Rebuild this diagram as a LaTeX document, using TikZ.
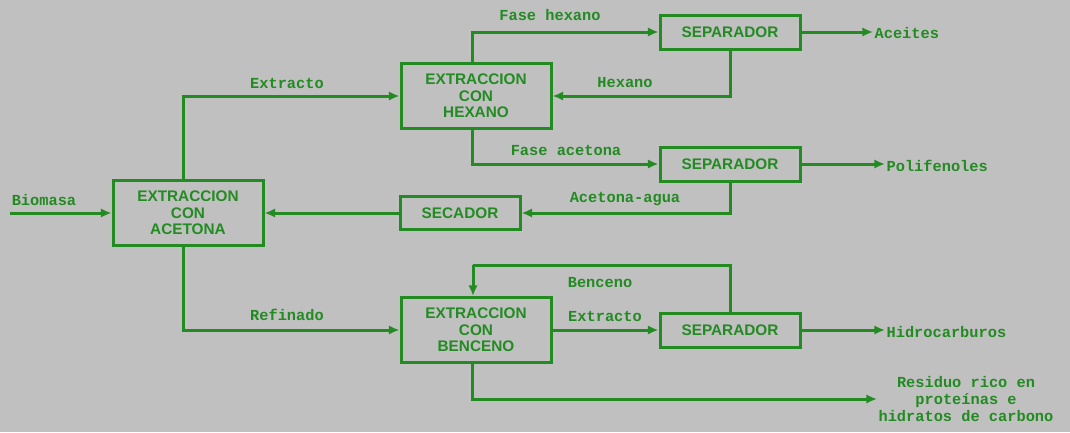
\documentclass[tikz,border=0pt]{standalone}
\usepackage{fontspec}
\setmainfont{Liberation Sans}
\newfontfamily\flowfont{Liberation Mono}
\usetikzlibrary{arrows.meta}
\definecolor{ink}{RGB}{34,139,34}
\definecolor{paper}{RGB}{192,192,192}
\tikzset{
  unitbox/.style={draw=ink, line width=2.25pt, text=ink, align=center,
    font=\fontsize{11.5}{12.5}\selectfont\bfseries, inner sep=1pt},
  bigbox/.style={unitbox, minimum width=112.5pt, minimum height=48.75pt},
  sepbox/.style={unitbox, minimum width=105pt, minimum height=25.5pt},
  drybox/.style={unitbox, minimum width=90pt, minimum height=24.75pt},
  lab/.style={text=ink, font=\flowfont\fontsize{11.5}{12.5}\selectfont\bfseries, inner sep=1pt},
  flow/.style={draw=ink, line width=2.25pt, -{Latex[length=8pt,width=7pt]}},
  wire/.style={draw=ink, line width=2.25pt}
}
\begin{document}
\begin{tikzpicture}[x=0.75pt, y=-0.75pt]
\fill[paper] (0,0) rectangle (1070,432);
\useasboundingbox (0,0) rectangle (1070,432);

% process units
\node[bigbox] (ace) at (188,213) {EXTRACCION\\CON\\ACETONA};
\node[bigbox] (hex) at (476,96) {EXTRACCION\\CON\\HEXANO};
\node[bigbox] (ben) at (476,330) {EXTRACCION\\CON\\BENCENO};
\node[sepbox] (s1) at (730,32) {SEPARADOR};
\node[sepbox] (s2) at (730,164) {SEPARADOR};
\node[sepbox] (s3) at (730,330) {SEPARADOR};
\node[drybox] (dry) at (460,213) {SECADOR};

% feed
\node[lab] (bio) at (44,200) {Biomasa};
\coordinate (feed) at (10,213);
\draw[flow] (feed) -- (ace.west);

% acetone extract to hexane extraction
\draw[flow] ([xshift=-3.75pt]ace.north) |- (hex.west);
\node[lab] at (287,83) {Extracto};

% hexane phase to separator, recycled hexane
\draw[flow] ([xshift=-3pt]hex.north) |- (s1.west);
\node[lab] at (550,15) {Fase hexano};
\draw[flow] (s1.south) |- (hex.east);
\node[lab] at (625,83) {Hexano};

% acetone phase to separator, acetone-water to dryer
\draw[flow] ([xshift=-3pt]hex.south) |- (s2.west);
\node[lab] at (566,150) {Fase acetona};
\draw[flow] (s2.south) |- (dry.east);
\node[lab] at (625,199) {Acetona-agua};
\draw[flow] (dry.west) -- (ace.east);

% raffinate to benzene extraction
\draw[flow] ([xshift=-3.75pt]ace.south) |- (ben.west);
\node[lab] at (287,315) {Refinado};

% benzene extract to separator, recycled benzene
\draw[flow] (ben.east) -- (s3.west);
\node[lab] at (605,316) {Extracto};
\coordinate (loop) at (473,265);
\draw[wire] (s3.north) |- (loop);
\draw[flow] (loop) -- (loop |- ben.north);
\node[lab] at (600,283) {Benceno};

% products
\node[lab, anchor=west] (oil) at (873,33) {Aceites};
\draw[flow] (s1.east) -- (s1.east -| oil.west);
\node[lab, anchor=west] (pol) at (885,166) {Polifenoles};
\draw[flow] (s2.east) -- (s2.east -| pol.west);
\node[lab, anchor=west] (hc) at (885,332) {Hidrocarburos};
\draw[flow] (s3.east) -- (s3.east -| hc.west);
\node[lab, align=center] (res) at (966,399) {Residuo rico en\\prote\'inas e\\hidratos de carbono};
\draw[flow] ([xshift=-3pt]ben.south) |- (res.west);
\end{tikzpicture}
\end{document}
